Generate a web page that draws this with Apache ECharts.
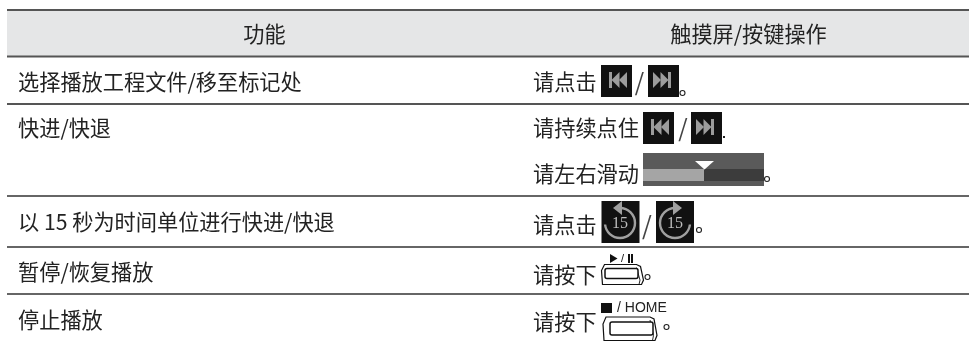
<!DOCTYPE html>
<html lang="zh">

<head>
  <meta charset="UTF-8">
  <title>功能</title>
  <style>
    html, body { margin: 0; padding: 0; background: #fff; }
    #main { width: 969px; height: 342px; }
  </style>
</head>

<body>
  <div id="main"></div>
  <script src="https://cdn.jsdelivr.net/npm/echarts@6/dist/echarts.min.js"></script>
  <script>
    // table content
    var headers = ['功能', '触摸屏/按键操作'];
    var functions = ['选择播放工程文件/移至标记处', '快进/快退', '以 15 秒为时间单位进行快进/快退', '暂停/恢复播放', '停止播放'];
    var touchTexts = ['请点击', '请持续点住', '请左右滑动', '请点击', '请按下', '请按下'];
    var skipSeparator = '/';
    var playKeyLabel = '/';
    var homeKeyLabel = '/ HOME';
    var jumpSeconds = '15';

    // layout, separate from the text above
    var FONT = '"Noto Sans CJK SC"';
    var INK = '#222';
    var SIZE = 21.2;
    var left = 7, right = 969;
    var ruleY = [10, 56.5, 104, 196, 247, 294];
    var ruleW = [2, 2, 2, 1.5, 1.5, 1.5];
    var funcY = [81.5, 127.5, 221.5, 271.5, 319.5];
    var touchY = [81.5, 127.5, 173.5, 224.5, 274.5, 321.5];

    var els = [];

    function txt(s, x, y, size, align, extra) {
      els.push({
        type: 'text', x: x, y: y, silent: true,
        style: Object.assign({
          text: s, fill: INK, font: size + 'px ' + FONT, textAlign: align || 'left', textVerticalAlign: 'middle'
        }, extra || {})
      });
    }
    function rect(x, y, w, h, fill) {
      els.push({ type: 'rect', shape: { x: x, y: y, width: w, height: h }, style: { fill: fill }, silent: true });
    }
    function poly(points, fill) {
      els.push({ type: 'polygon', shape: { points: points }, style: { fill: fill }, silent: true });
    }
    function line(x1, y1, x2, y2, color, w) {
      els.push({ type: 'line', shape: { x1: x1, y1: y1, x2: x2, y2: y2 }, style: { stroke: color, lineWidth: w }, silent: true });
    }
    function dot(x, y) {
      els.push({ type: 'circle', shape: { cx: x, cy: y, r: 2.5 }, style: { fill: 'none', stroke: INK, lineWidth: 1.1 }, silent: true });
    }

    // black square with the skip glyph, dir -1 = back, 1 = forward
    function skipIcon(x, y, dir) {
      var w = 31, h = 32, c = '#9c9c9c';
      rect(x, y, w, h, '#111');
      var cx = x + w / 2 + 1.5, cy = y + h / 2 - 1;
      if (dir < 0) {
        rect(cx - 9, cy - 8, 3, 16, c);
        poly([[cx - 6.5, cy], [cx + 1.5, cy - 8], [cx + 1.5, cy + 8]], c);
        poly([[cx + 1, cy], [cx + 9, cy - 8], [cx + 9, cy + 8]], c);
      } else {
        cx -= 3;
        rect(cx + 6, cy - 8, 3, 16, c);
        poly([[cx + 6.5, cy], [cx - 1.5, cy - 8], [cx - 1.5, cy + 8]], c);
        poly([[cx - 1, cy], [cx - 9, cy - 8], [cx - 9, cy + 8]], c);
      }
    }

    // black square with the circular 15 s arrow
    function jumpIcon(x, y, dir) {
      var w = 38, h = 42, c = '#a0a0a0';
      rect(x, y, w, h, '#111');
      var cx = x + w / 2 - (dir < 0 ? 0.5 : 0), cy = y + 22, r = 15;
      if (dir < 0) {
        els.push({ type: 'arc', shape: { cx: cx, cy: cy, r: r, startAngle: -Math.PI / 2, endAngle: Math.PI - 0.1, clockwise: true }, style: { stroke: c, fill: 'none', lineWidth: 2.4 }, silent: true });
        poly([[cx - 7, cy - r], [cx + 2, cy - r - 7], [cx + 2, cy - r + 7]], c);
      } else {
        els.push({ type: 'arc', shape: { cx: cx, cy: cy, r: r, startAngle: -Math.PI / 2, endAngle: 0.1, clockwise: false }, style: { stroke: c, fill: 'none', lineWidth: 2.4 }, silent: true });
        poly([[cx + 7, cy - r], [cx - 2, cy - r - 7], [cx - 2, cy - r + 7]], c);
      }
      txt(jumpSeconds, cx, cy + 0.5, 16, 'center', { fill: '#bdbdbd', font: '16px "Liberation Serif"' });
    }

    // slider strip with a white position marker
    function sliderIcon(x, y) {
      rect(x, y, 121, 33, '#5a5a5a');
      rect(x, y + 16, 61, 12, '#a5a5a5');
      rect(x + 61, y + 16, 60, 12, '#3c3c3c');
      poly([[x + 52, y + 8], [x + 71, y + 8], [x + 61.5, y + 16.5]], '#fff');
    }

    // hardware key, outer outline and inner cap
    function keyIcon(x, y, w, h, capX, capY, capW, capH) {
      els.push({
        type: 'polygon', silent: true,
        shape: { points: [[x + 1, y + h], [x, y + h * 0.3], [x + 3, y], [x + w - 8, y], [x + w - 4, y + 2], [x + w - 1, y + h * 0.78], [x + w - 3, y + h]] },
        style: { stroke: '#111', fill: '#fff', lineWidth: 1.2 }
      });
      line(x + w - 8, y + 3, x + w - 4.5, y + h * 0.78, '#111', 0.9);
      line(x + w - 4.5, y + h * 0.78, x + w - 5.5, y + h, '#111', 0.9);
      els.push({ type: 'rect', silent: true, shape: { x: capX, y: capY, width: capW, height: capH, r: 2 }, style: { stroke: '#111', fill: '#fff', lineWidth: 1.5 } });
    }

    // header band and rules
    rect(left, ruleY[0], right - left, ruleY[1] - ruleY[0], '#e5e6e7');
    ruleY.forEach(function (y, i) { line(left, y, right, y, i < 3 ? '#555' : '#333', ruleW[i]); });
    txt(headers[0], 264.5, 33.5, SIZE, 'center');
    txt(headers[1], 748.5, 33.5, SIZE, 'center');

    functions.forEach(function (s, i) { txt(s, 18, funcY[i], SIZE); });

    touchTexts.forEach(function (s, i) { txt(s, 533, touchY[i], SIZE); });

    // row 1
    skipIcon(601, 65, -1);
    txt(skipSeparator, 639.5, 82, 24, 'center', { fill: '#444' });
    skipIcon(648, 65, 1);
    dot(682.5, 93);
    // row 2
    skipIcon(643, 112, -1);
    txt(skipSeparator, 683, 128, 24, 'center', { fill: '#444' });
    skipIcon(691, 112, 1);
    rect(723, 136, 2, 2, INK);
    // row 3
    sliderIcon(643, 153);
    dot(767, 179);
    // row 4
    jumpIcon(601.5, 201, -1);
    txt(skipSeparator, 647, 225, 25, 'center', { fill: '#444' });
    jumpIcon(656, 201, 1);
    dot(699, 230);
    // row 5
    poly([[610, 254], [610, 263], [617.5, 258.5]], '#111');
    txt(playKeyLabel, 622.5, 258.5, 11, 'center', { font: '11px "Liberation Sans"', fill: '#111' });
    rect(628, 254, 2, 9, '#111');
    rect(631, 254, 2, 9, '#111');
    keyIcon(601.5, 264.5, 43, 20, 605, 268.5, 33, 10);
    dot(647.5, 277);
    // row 6
    rect(601, 303, 11, 10, '#111');
    txt(homeKeyLabel, 617, 308.5, 14, 'left', { font: '14px "Liberation Sans"', fill: '#222' });
    keyIcon(603, 317, 55, 23.5, 610, 322, 43, 13);
    dot(666.5, 327);

    var myChart = echarts.init(document.getElementById('main'));
    myChart.setOption({ animation: false, graphic: { elements: els } });
  </script>
</body>

</html>
